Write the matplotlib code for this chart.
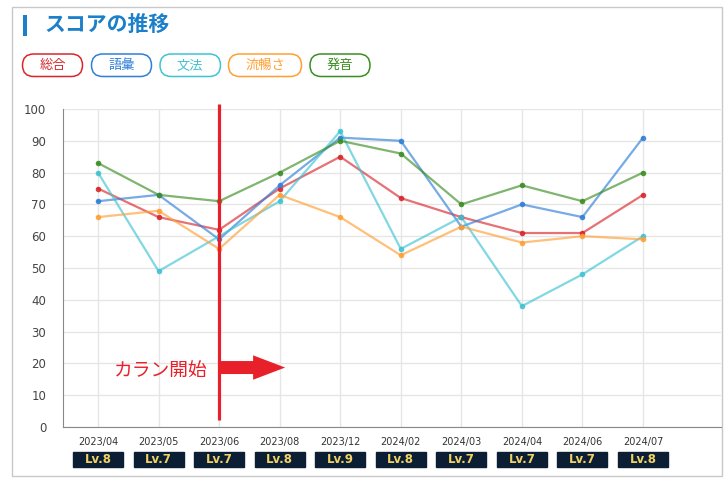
import matplotlib
matplotlib.use("Agg")
import matplotlib.pyplot as plt
from matplotlib.patches import FancyBboxPatch, Rectangle, Polygon
import matplotlib.transforms as mtransforms

plt.rcParams['font.family'] = ['Noto Sans CJK JP', 'DejaVu Sans']

# ---- data ----
dates = ["2023/04", "2023/05", "2023/06", "2023/08", "2023/12",
         "2024/02", "2024/03", "2024/04", "2024/06", "2024/07"]
levels = ["Lv.8", "Lv.7", "Lv.7", "Lv.8", "Lv.9",
          "Lv.8", "Lv.7", "Lv.7", "Lv.7", "Lv.8"]
series_names = ["総合", "語彙", "文法", "流暢さ", "発音"]
sogo = [75, 66, 62, 75, 85, 72, 66, 61, 61, 73]
goi = [71, 73, 59, 76, 91, 90, 63, 70, 66, 91]
bunpo = [80, 49, 60, 71, 93, 56, 66, 38, 48, 60]
ryucho = [66, 68, 56, 73, 66, 54, 63, 58, 60, 59]
hatsuon = [83, 73, 71, 80, 90, 86, 70, 76, 71, 80]
series_values = [sogo, goi, bunpo, ryucho, hatsuon]
colors = ['#d9262c', '#2f7fd8', '#3fc3d3', '#ff9f33', '#3a8e22']
start_label = "カラン開始"
start_index = dates.index("2023/06")

W, H = 728, 483
fig = plt.figure(figsize=(W / 100, H / 100), dpi=100)

# overlay axes in pixel coordinates
ov = fig.add_axes([0, 0, 1, 1], zorder=0)
ov.set_xlim(0, W)
ov.set_ylim(H, 0)
ov.axis('off')

# panel border
ov.add_patch(Rectangle((11.5, 6.5), 710, 469.5, fill=False, ec='#c8c8c8', lw=1))
# title
ov.add_patch(Rectangle((22.5, 15), 4, 21, color='#1b7fc9', lw=0))
ov.text(44, 24, "スコアの推移", fontsize=15, fontweight='bold', color='#1b7fc9',
        va='center', ha='left')
# pills
pill_x = [22.5, 91.5, 160, 228.5, 310]
pill_w = [60, 60, 60.5, 73, 60]
for name, c, x0, w in zip(series_names, colors, pill_x, pill_w):
    ov.add_patch(FancyBboxPatch((x0, 54), w, 22.5,
                                boxstyle="round,pad=0,rounding_size=11.25",
                                fc='white', ec=c, lw=1.1))
    ov.text(x0 + w / 2, 65.5, name, fontsize=9.5, color=c, ha='center', va='center')

# main chart axes
left_px, right_px, top_px, bot_px = 63, 721, 109, 427
ax = fig.add_axes([left_px / W, 1 - bot_px / H, (right_px - left_px) / W,
                   (bot_px - top_px) / H], zorder=2)
ax.set_facecolor('none')
x = list(range(len(dates)))
for vals, c in zip(series_values, colors):
    ax.plot(x, vals, color=c, lw=1.6, alpha=0.65, zorder=3)
    ax.plot(x, vals, 'o', color=c, ms=4, alpha=0.9, zorder=4, mec='none')

step_px = (643 - 98) / 9
ax.set_xlim(-(98 - left_px) / step_px, 9 + (right_px - 643) / step_px)
ax.set_ylim(0, 100)
ax.set_yticks(range(0, 101, 10))
ax.set_xticks(x)
ax.set_xticklabels(dates, fontsize=7, color='#333333', family='DejaVu Sans')
ax.tick_params(axis='y', labelsize=8.5, colors='#444444', length=0, pad=12)
ax.tick_params(axis='x', length=0, pad=7)
for lab in ax.get_yticklabels():
    lab.set_family('DejaVu Sans')
ax.grid(True, color='#e6e6e6', lw=1)
ax.set_axisbelow(True)
for s in ['top', 'right']:
    ax.spines[s].set_visible(False)
ax.spines['left'].set_color('#888888')
ax.spines['bottom'].set_color('#888888')

# level badges
trans = mtransforms.blended_transform_factory(ax.transData, ax.transAxes)
bw = 50 / step_px
y_top = (bot_px - 452) / (bot_px - top_px)
y_bot = (bot_px - 467) / (bot_px - top_px)
for i, lv in enumerate(levels):
    ax.add_patch(Rectangle((i - bw / 2, y_bot), bw, y_top - y_bot, transform=trans,
                           color='#0b1e33', clip_on=False, zorder=5))
    ax.text(i, (y_top + y_bot) / 2, lv, transform=trans, ha='center', va='center',
            fontsize=8.5, fontweight='bold', color='#f2d265', family='DejaVu Sans',
            zorder=6, clip_on=False)

# start marker
ypx = 3.18
ax.plot([start_index, start_index], [2.2, 101.6], color='#e8202a', lw=2.3,
        clip_on=False, zorder=6, solid_capstyle='butt')
ay = 18.7
body_h = 6.5 / ypx
head_h = 12.2 / ypx
hx = start_index + 34 / step_px
tx = start_index + 66 / step_px
ax.add_patch(Polygon([(start_index, ay + body_h), (hx, ay + body_h), (hx, ay + head_h),
                      (tx, ay), (hx, ay - head_h), (hx, ay - body_h),
                      (start_index, ay - body_h)], closed=True, color='#e8202a',
                     lw=0, zorder=6))
ax.text(start_index - 11 / step_px, 17.8, start_label, fontsize=13.5, color='#e8202a',
        ha='right', va='center', zorder=6)

fig.savefig('out.png', dpi=100)
